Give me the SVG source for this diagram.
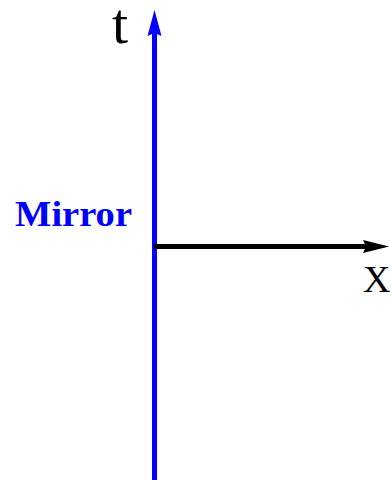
<svg xmlns="http://www.w3.org/2000/svg" width="391" height="480" viewBox="0 0 391 480">
<style>
.lbl{font-family:"Liberation Serif","Times New Roman",serif;fill:#000}
.mir{font-family:"Liberation Serif","Times New Roman",serif;font-weight:bold;fill:#0000ff}
</style>
<rect width="391" height="480" fill="#fff"/>
<g id="connectors">
<line x1="154.5" y1="480" x2="154.5" y2="32" stroke="#0000ff" stroke-width="5"/>
<polygon points="154.5,10 161.5,36 154.5,33 147.5,36" fill="#0000ff"/>
<line x1="154" y1="246.5" x2="366" y2="246.5" stroke="#000" stroke-width="5"/>
<polygon points="389,246.5 363,253 366,246.5 363,240" fill="#000"/>
</g>
<g id="t-label"><text class="lbl" x="112" y="43" font-size="58">t</text></g>
<g id="x-label"><text class="lbl" x="363" y="292" font-size="38">X</text></g>
<g id="mirror"><text class="mir" x="15" y="226" font-size="35" textLength="117" lengthAdjust="spacingAndGlyphs">Mirror</text></g>
</svg>
